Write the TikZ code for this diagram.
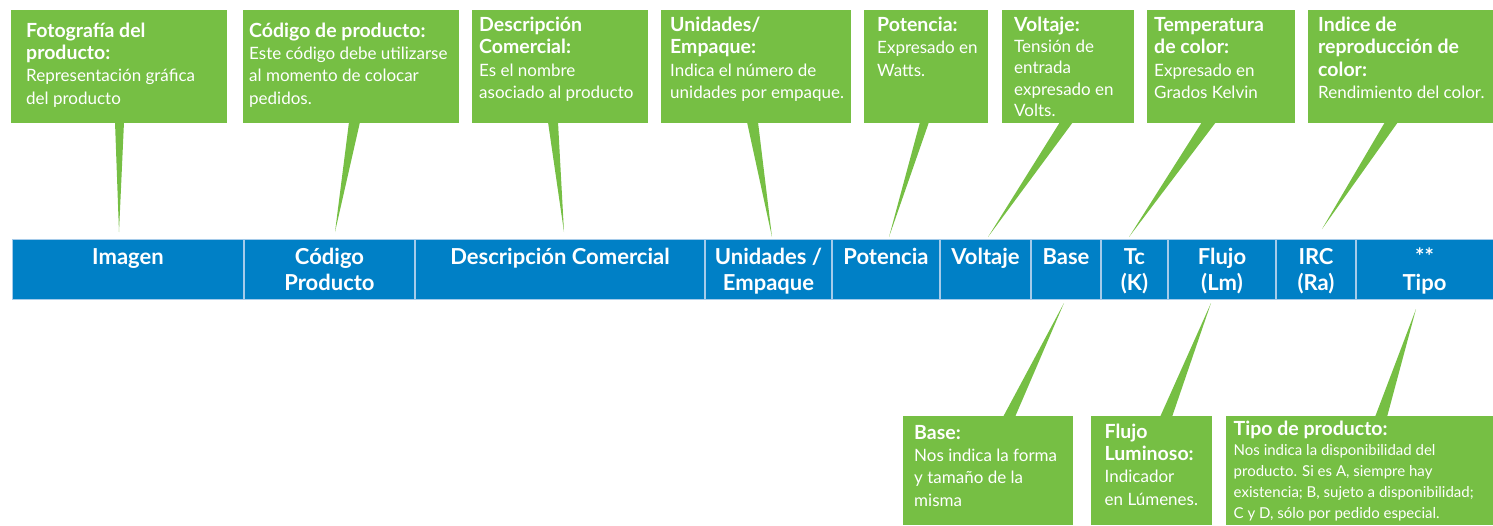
\documentclass[tikz,border=0pt]{standalone}
\usepackage{fontspec}
\setmainfont{Lato}
\definecolor{verde}{RGB}{118,191,68}
\definecolor{azul}{RGB}{0,128,198}
\definecolor{linea}{RGB}{165,203,234}
\newcommand{\titulo}[1]{{\fontsize{19.5}{22.4}\selectfont\bfseries #1}}
\tikzset{
  caja/.style={fill=verde, inner sep=0pt, anchor=north west},
  texto/.style={text=white, anchor=base west, align=left, inner sep=0pt,
    font=\fontsize{17}{22.4}\selectfont},
  encab/.style={text=white, anchor=base, align=center, inner sep=0pt,
    font=\fontsize{22}{26}\selectfont\bfseries},
  divisor/.style={draw=linea, line width=1.2pt},
}
\begin{document}
\begin{tikzpicture}[x=1pt,y=-1pt]
\useasboundingbox (0,0) rectangle (1493,525);
% barra
\node[fill=azul, draw=linea, line width=.8pt, inner sep=0pt, anchor=north west,
  minimum width=1482, minimum height=60] (barra) at (12,239) {};
\foreach \x in {244,415,705,832,940,1031,1101,1168,1276,1356}
  \draw[divisor] (\x,239.5) -- (\x,298.5);
% base = ultima linea
\node[encab] (hImagen) at (128,264) {Imagen};
\node[encab] (hCodigo) at (329.5,290) {Código\\Producto};
\node[encab] (hDesc) at (560,264) {Descripción Comercial};
\node[encab] (hUnid) at (768.5,290) {Unidades /\\Empaque};
\node[encab] (hPot) at (886,264) {Potencia};
\node[encab] (hVolt) at (985.5,264) {Voltaje};
\node[encab] (hBase) at (1066,264) {Base};
\node[encab] (hTc) at (1134.5,290) {Tc\\(K)};
\node[encab] (hFlujo) at (1222,290) {Flujo\\(Lm)};
\node[encab] (hIrc) at (1316,290) {IRC\\(Ra)};
\node[encab] (hTipo) at (1424.5,290) {**\\Tipo};
% cajas de arriba
\node[caja, minimum width=216, minimum height=113] (cFoto) at (11,10) {};
\node[caja, minimum width=216, minimum height=113] (cCodigo) at (243,10) {};
\node[caja, minimum width=176, minimum height=113] (cDesc) at (472,10) {};
\node[caja, minimum width=190, minimum height=113] (cUnid) at (661,10) {};
\node[caja, minimum width=124, minimum height=113] (cPot) at (864,10) {};
\node[caja, minimum width=132, minimum height=113] (cVolt) at (1002,10) {};
\node[caja, minimum width=148, minimum height=113] (cTc) at (1147,10) {};
\node[caja, minimum width=185, minimum height=113] (cIrc) at (1308,10) {};
\coordinate (pFoto) at (119,232);
\coordinate (pCodigo) at (335,232);
\coordinate (pDesc) at (564,232);
\coordinate (pUnid) at (772,237);
\coordinate (pPot) at (889,237);
\coordinate (pVolt) at (988,237);
\coordinate (pTc) at (1129,237);
\coordinate (pIrc) at (1322,229);
\fill[verde] (115,122) -- (124,122) -- (pFoto) -- cycle;
\fill[verde] (349,122) -- (360,122) -- (pCodigo) -- cycle;
\fill[verde] (548,122) -- (558,122) -- (pDesc) -- cycle;
\fill[verde] (747,122) -- (758,122) -- (pUnid) -- cycle;
\fill[verde] (920,122) -- (929,122) -- (pPot) -- cycle;
\fill[verde] (1060,122) -- (1073,122) -- (pVolt) -- cycle;
\fill[verde] (1202,122) -- (1216,122) -- (pTc) -- cycle;
\fill[verde] (1385,122) -- (1398,122) -- (pIrc) -- cycle;
\node[texto] (tFoto) at (26,104.2) {\titulo{Fotografía del}\\\titulo{producto:}\\Representación gráfica\\del producto};
\node[texto] (tCodigo) at (249,104.2) {\titulo{Código de producto:}\\Este código debe utilizarse\\al momento de colocar\\pedidos.};
\node[texto] (tDesc) at (479,98.7) {\titulo{Descripción}\\\titulo{Comercial:}\\Es el nombre\\asociado al producto};
\node[texto] (tUnid) at (670,98.7) {\titulo{Unidades/}\\\titulo{Empaque:}\\Indica el número de\\unidades por empaque.};
\node[texto] (tPot) at (877,76.3) {\titulo{Potencia:}\\Expresado en\\Watts.};
\node[texto, font=\fontsize{17}{21.2}\selectfont] (tVolt) at (1014,116.3) {\titulo{Voltaje:}\\Tensión de\\entrada\\expresado en\\Volts.};
\node[texto] (tTc) at (1154,98.7) {\titulo{Temperatura}\\\titulo{de color:}\\Expresado en\\Grados Kelvin};
\node[texto] (tIrc) at (1318,98.7) {\titulo{Indice de}\\\titulo{reproducción de}\\\titulo{color:}\\Rendimiento del color.};
% cajas de abajo
\node[caja, minimum width=170, minimum height=109] (cBase) at (903,416) {};
\node[caja, minimum width=121, minimum height=109] (cFlujo) at (1091,416) {};
\node[caja, minimum width=267, minimum height=109] (cTipo) at (1226,416) {};
\coordinate (pBase) at (1064,303);
\coordinate (pFlujo) at (1211,303);
\coordinate (pTipo) at (1416,309);
\fill[verde] (1003,417) -- (1015,417) -- (pBase) -- cycle;
\fill[verde] (1160,417) -- (1172,417) -- (pFlujo) -- cycle;
\fill[verde] (1375,417) -- (1387,417) -- (pTipo) -- cycle;
\node[texto] (tBase) at (914,506.2) {\titulo{Base:}\\Nos indica la forma\\y tamaño de la\\misma};
\node[texto] (tFlujo) at (1104.5,505.2) {\titulo{Flujo}\\\titulo{Luminoso:}\\Indicador\\en Lúmenes.};
\node[texto, font=\fontsize{15}{20.8}\selectfont] (tTipo) at (1233.5,518.2) {\titulo{Tipo de producto:}\\Nos indica la disponibilidad del\\producto. Si es A, siempre hay\\existencia; B, sujeto a disponibilidad;\\C y D, sólo por pedido especial.};
\end{tikzpicture}
\end{document}
